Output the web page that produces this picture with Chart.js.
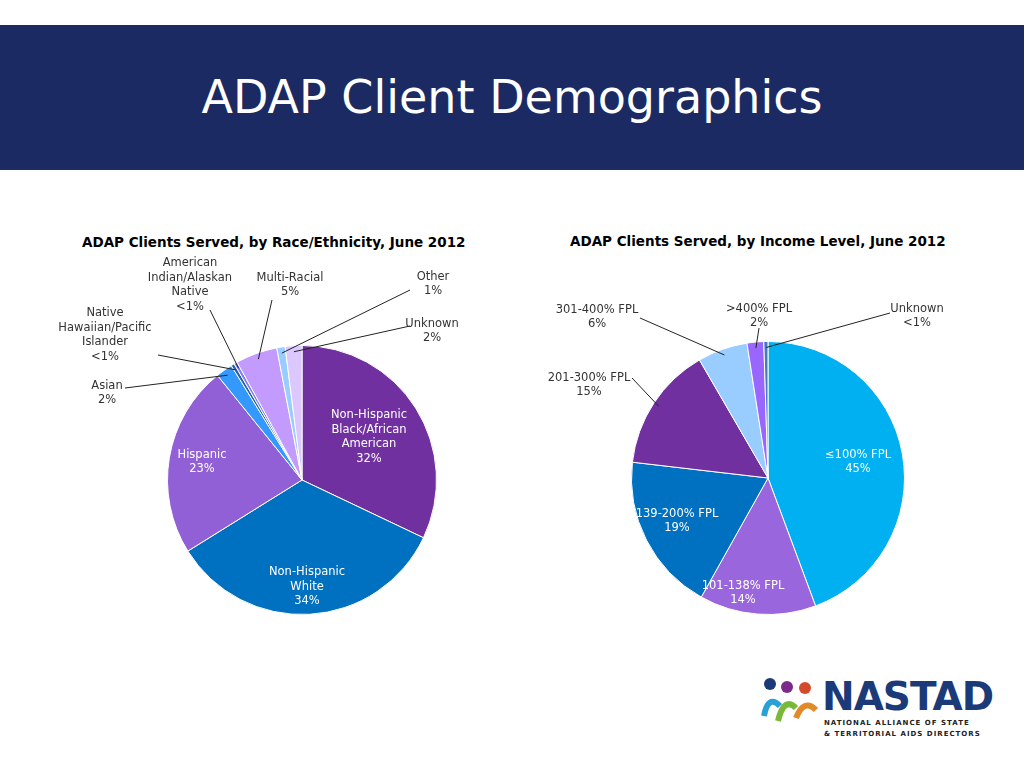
<!DOCTYPE html>
<html><head><meta charset="utf-8">
<script src="https://cdn.jsdelivr.net/npm/chart.js@4"></script>
<style>
body{margin:0;width:1024px;height:768px;background:#fff;font-family:"DejaVu Sans",Verdana,sans-serif;position:relative;overflow:hidden}
#band{position:absolute;left:0;top:25px;width:1024px;height:145px;background:#1b2a63}
#band h1{margin:0;color:#fff;font-weight:normal;font-size:46px;text-align:center;line-height:145px}
.ttl{position:absolute;font-weight:bold;font-size:13.5px;color:#000;white-space:nowrap}
canvas{position:absolute}
#logo{position:absolute;left:760px;top:676px}
#logo .big{position:absolute;left:62px;top:-2px;font:bold 39px "DejaVu Sans";color:#1b3a78;letter-spacing:-1px}
#logo .sm{position:absolute;left:64px;top:42px;font:bold 7px "DejaVu Sans";color:#222;letter-spacing:1px;white-space:nowrap;line-height:11px}
</style></head><body>
<div id="band"><h1>ADAP Client Demographics</h1></div>
<div class="ttl" style="left:82px;top:234px">ADAP Clients Served, by Race/Ethnicity, June 2012</div>
<div class="ttl" style="left:570px;top:233px">ADAP Clients Served, by Income Level, June 2012</div>
<canvas id="c1" width="500" height="400" style="left:40px;top:250px;width:500px;height:400px"></canvas>
<canvas id="c2" width="480" height="400" style="left:520px;top:250px;width:480px;height:400px"></canvas>
<div id="logo">
  <svg width="64" height="70" style="position:absolute;left:0;top:0">
    <circle cx="10" cy="8" r="6" fill="#1b3a78"/><circle cx="27" cy="11" r="6" fill="#7a2a8a"/><circle cx="45" cy="12" r="6" fill="#d24a2a"/>
    <path d="M4 40 Q8 18 20 30" stroke="#2aa0d8" stroke-width="6" fill="none"/>
    <path d="M18 45 Q24 20 36 32" stroke="#7ab83a" stroke-width="6" fill="none"/>
    <path d="M36 42 Q44 22 56 34" stroke="#e08a2a" stroke-width="6" fill="none"/>
  </svg>
  <div class="big">NASTAD</div>
  <div class="sm">NATIONAL ALLIANCE OF STATE<br>&amp; TERRITORIAL AIDS DIRECTORS</div>
</div>
<script>
const raceLabels = ['Non-Hispanic Black/African American','Non-Hispanic White','Hispanic','Asian','Native Hawaiian/Pacific Islander','American Indian/Alaskan Native','Multi-Racial','Other','Unknown']
const raceValues = [32, 34, 23, 2, 0.4, 0.4, 5, 1, 2]
const raceText = [['Non-Hispanic','Black/African','American','32%'],['Non-Hispanic','White','34%'],['Hispanic','23%'],['Asian','2%'],['Native','Hawaiian/Pacific','Islander','<1%'],['American','Indian/Alaskan','Native','<1%'],['Multi-Racial','5%'],['Other','1%'],['Unknown','2%']]
const raceColors = ['#7030a0','#0070c0','#9260d6','#3399ff','#2a5fb0','#7f7fff','#c39bff','#99ccff','#dcc8ff']

const incLabels = ['≤100% FPL','101-138% FPL','139-200% FPL','201-300% FPL','301-400% FPL','>400% FPL','Unknown']
const incValues = [45, 14, 19, 15, 6, 2, 0.5]
const incText = [['≤100% FPL','45%'],['101-138% FPL','14%'],['139-200% FPL','19%'],['201-300% FPL','15%'],['301-400% FPL','6%'],['>400% FPL','2%'],['Unknown','<1%']]
const incColors = ['#00b0f0','#9966dd','#0070c0','#7030a0','#99ccff','#9966ff','#4a78c0']

// label placement (canvas coords): inside labels = [x,y]; outside = [x,y,lineX,lineY]
const raceLayout = [[329,187],[267,337],[162,212],[67,143,85,138],[65,85,118,105],[150,35,170,60],[250,35,232,50],[393,34,370,40],[392,81,370,76]]
const incLayout = [[338,212],[223,343],[157,271],[69,135,112,128],[77,67,120,68],[239,66,239,78],[397,66,370,63]]

function labelPlugin(texts, layout) {
  return { id:'lbl', afterDatasetsDraw(chart) {
    const ctx = chart.ctx
    ctx.save()
    ctx.font = '11.5px "DejaVu Sans"'
    ctx.textAlign = 'center'; ctx.textBaseline = 'middle'
    chart.getDatasetMeta(0).data.forEach((arc, i) => {
      const L = layout[i], lines = texts[i]
      const h = 14.5, y0 = L[1] - (lines.length-1)*h/2
      if (L.length > 2) {
        const mid = (arc.startAngle + arc.endAngle)/2
        ctx.strokeStyle = '#222'; ctx.lineWidth = 1
        ctx.beginPath(); ctx.moveTo(L[2], L[3])
        ctx.lineTo(arc.x + Math.cos(mid)*(arc.outerRadius-6), arc.y + Math.sin(mid)*(arc.outerRadius-6))
        ctx.stroke()
        ctx.fillStyle = '#333'
      } else ctx.fillStyle = '#fff'
      lines.forEach((t, k) => ctx.fillText(t, L[0], y0 + k*h))
    })
    ctx.restore()
  }}
}

function pie(id, labels, values, colors, pad, texts, layout) {
  new Chart(document.getElementById(id), {
    type:'pie',
    data:{ labels, datasets:[{ data:values, backgroundColor:colors, borderColor:'#fff', borderWidth:1 }] },
    options:{ responsive:false, animation:false, layout:{ padding:pad },
      plugins:{ legend:{display:false}, tooltip:{enabled:false} } },
    plugins:[labelPlugin(texts, layout)]
  })
}
pie('c1', raceLabels, raceValues, raceColors, {left:127,right:103,top:95,bottom:35}, raceText, raceLayout)
pie('c2', incLabels, incValues, incColors, {left:111,right:95,top:91,bottom:35}, incText, incLayout)
</script>
</body></html>
